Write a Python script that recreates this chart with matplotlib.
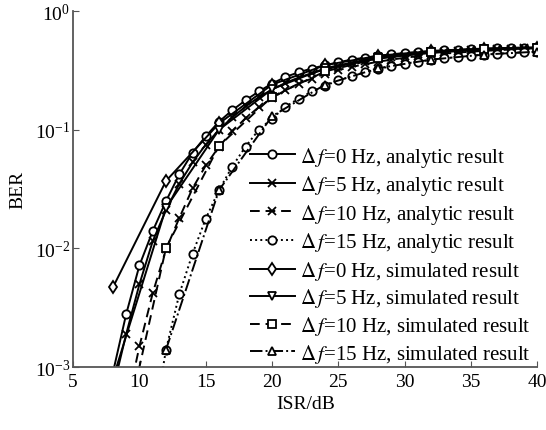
import numpy as np
import matplotlib
matplotlib.use("Agg")
import matplotlib.pyplot as plt

plt.rcParams["font.family"] = ["Liberation Serif", "DejaVu Serif"]
plt.rcParams["mathtext.fontset"] = "stix"

# analytic curves, 1 dB grid
isr_a0 = list(range(8, 41))
ber_a0 = [9e-4, 2.8e-3, 7.2e-3, 0.014, 0.025, 0.042, 0.064, 0.088, 0.117, 0.146,
          0.177, 0.21, 0.245, 0.278, 0.305, 0.328, 0.35, 0.37, 0.39, 0.405,
          0.42, 0.432, 0.443, 0.452, 0.46, 0.467, 0.473, 0.478, 0.483, 0.487,
          0.49, 0.493, 0.495]
isr_a5 = list(range(8, 41))
ber_a5 = [6.5e-4, 1.9e-3, 5.0e-3, 0.0115, 0.021, 0.035, 0.053, 0.075, 0.1, 0.127,
          0.157, 0.188, 0.218, 0.248, 0.275, 0.3, 0.322, 0.342, 0.362, 0.38,
          0.396, 0.41, 0.422, 0.433, 0.443, 0.452, 0.46, 0.467, 0.473, 0.478,
          0.482, 0.486, 0.49]
isr_a10 = list(range(9, 41))
ber_a10 = [4.5e-4, 1.5e-3, 4.2e-3, 0.0098, 0.018, 0.032, 0.05, 0.072, 0.097, 0.125,
           0.155, 0.185, 0.215, 0.245, 0.27, 0.295, 0.318, 0.338, 0.357, 0.374,
           0.39, 0.404, 0.417, 0.428, 0.438, 0.447, 0.455, 0.462, 0.468, 0.474,
           0.479, 0.484]
isr_a15 = list(range(11, 41))
ber_a15 = [3e-4, 1.4e-3, 4.1e-3, 9e-3, 0.0178, 0.031, 0.049, 0.072, 0.1, 0.124,
           0.156, 0.183, 0.21, 0.235, 0.26, 0.283, 0.305, 0.325, 0.343, 0.36,
           0.375, 0.388, 0.4, 0.41, 0.42, 0.43, 0.437, 0.444, 0.45, 0.455]

# simulated points, 4 dB grid
isr_s = [8, 12, 16, 20, 24, 28, 32, 36, 40]
ber_s0 = [4.7e-3, 0.037, 0.113, 0.24, 0.35, 0.42, 0.46, 0.48, 0.49]
ber_s5 = [8e-4, 0.022, 0.1, 0.22, 0.33, 0.41, 0.455, 0.48, 0.49]
ber_s10 = [1e-4, 0.0101, 0.073, 0.19, 0.31, 0.4, 0.45, 0.475, 0.485]
isr_s15 = [12, 16, 20, 24, 28, 32, 36, 40]
ber_s15 = [1.4e-3, 0.031, 0.13, 0.24, 0.33, 0.39, 0.43, 0.455]

fig = plt.figure(figsize=(5.46, 4.31), dpi=100)
ax = fig.add_axes([0.134, 0.146, 0.850, 0.826])

mk = dict(color="black", lw=1.4, ms=6, mfc="white", mec="black", mew=1.3)
ax.plot(isr_a0, ber_a0, "-", marker="o", label=r"$\Delta\, f$=0 Hz, analytic result", **mk)
ax.plot(isr_a5, ber_a5, "-", marker="x", label=r"$\Delta\, f$=5 Hz, analytic result", **mk)
ax.plot(isr_a10, ber_a10, "--", marker="x", dashes=(5, 3), label=r"$\Delta\, f$=10 Hz, analytic result", **mk)
ax.plot(isr_a15, ber_a15, ":", marker="o", label=r"$\Delta\, f$=15 Hz, analytic result", **mk)
ax.plot(isr_s, ber_s0, "-", marker="d", label=r"$\Delta\, f$=0 Hz, simulated result", **mk)
ax.plot(isr_s, ber_s5, "-", marker="v", label=r"$\Delta\, f$=5 Hz, simulated result", **mk)
ax.plot(isr_s, ber_s10, "--", marker="s", dashes=(5, 3), label=r"$\Delta\, f$=10 Hz, simulated result", **mk)
ax.plot(isr_s15, ber_s15, "-.", marker="^", label=r"$\Delta\, f$=15 Hz, simulated result", **mk)

ax.set_yscale("log")
ax.set_xlim(5, 40)
ax.set_ylim(1e-3, 1)
ax.set_xticks(range(5, 41, 5))
ax.set_yticks([1e-3, 1e-2, 1e-1, 1])
ax.yaxis.set_minor_locator(matplotlib.ticker.NullLocator())
ax.tick_params(direction="in", length=4, labelsize=14, color="#555555")
ax.tick_params(axis="x", pad=4)
ax.tick_params(axis="y", pad=2)
for s in ["top", "right"]:
    ax.spines[s].set_visible(False)
for s in ["left", "bottom"]:
    ax.spines[s].set_color("#555555")
    ax.spines[s].set_linewidth(1.3)

ax.set_xlabel("ISR/dB", fontsize=14, labelpad=4)
ax.set_ylabel("BER", fontsize=14, labelpad=6)

ax.legend(loc="upper right", bbox_to_anchor=(0.985, 0.625), frameon=False,
          fontsize=15, handlelength=2.2, handletextpad=0.2, labelspacing=0.22,
          borderaxespad=0, borderpad=0)

fig.savefig("out.png", dpi=100)
